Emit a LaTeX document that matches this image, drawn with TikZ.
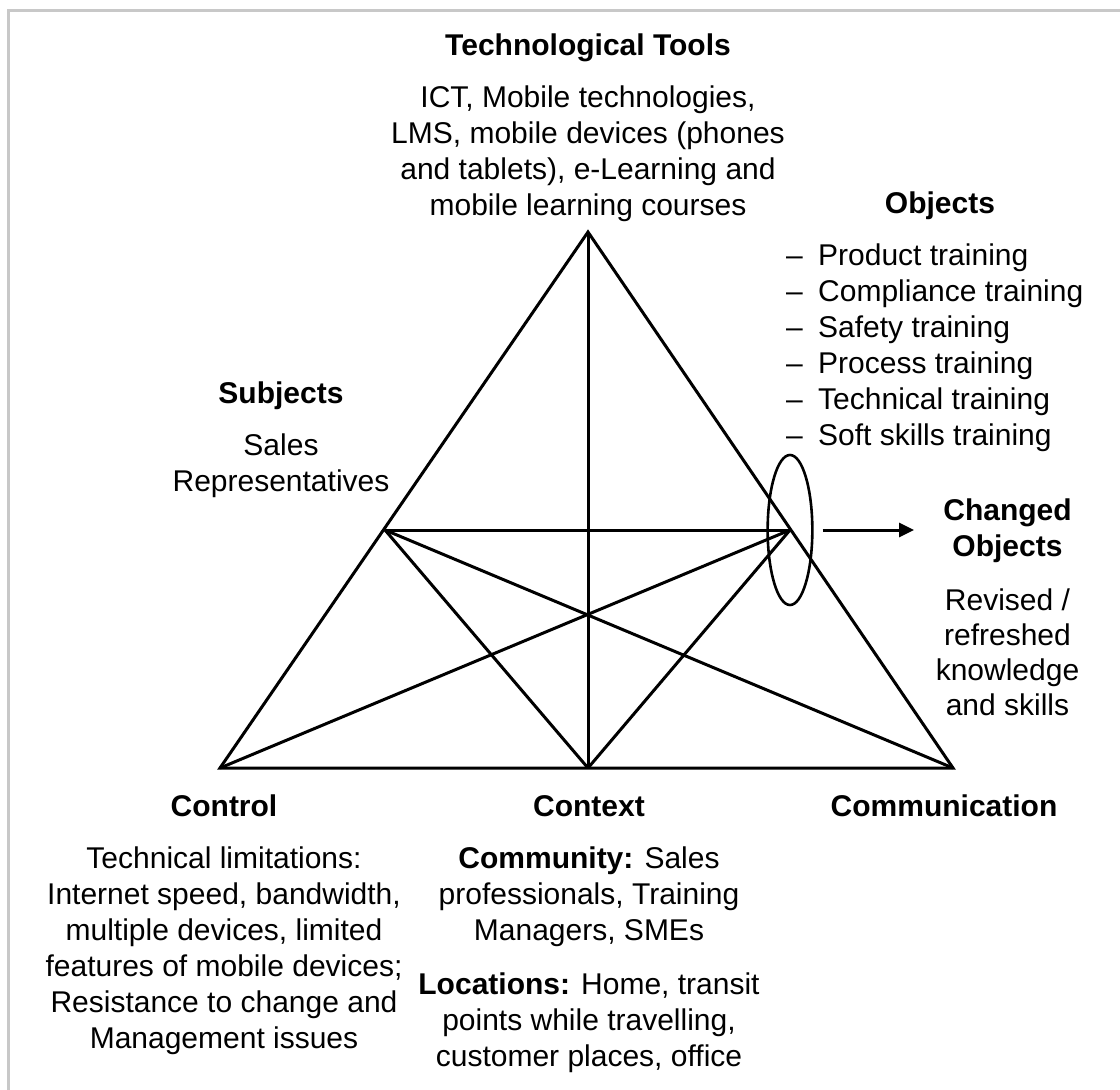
\documentclass[tikz,border=0pt]{standalone}
\usepackage{fontspec}
\setmainfont{Liberation Sans}
\usetikzlibrary{positioning, arrows.meta, shapes.geometric}
\definecolor{framegray}{HTML}{C8C8C8}

\begin{document}
\begin{tikzpicture}[x=1pt, y=-1pt, node distance=30.5pt,
  head/.style={font=\bfseries, inner sep=0pt, anchor=base},
  txt/.style={align=center, inner sep=0pt,
              execute at begin node=\strut, execute at end node=\strut},
  edge/.style={line width=3pt},
  arr/.style={-{Triangle[length=15pt, width=14pt]}, line width=3pt}]
  \fontsize{30}{36}\selectfont
  \useasboundingbox (0,0) rectangle (1120,1090);
  \draw[framegray, line width=2.5pt] (8.5,1090) -- (8.5,10.5) -- (1120,10.5);

  % corners of the triangle
  \coordinate (tools) at (588,232);
  \coordinate (ctl) at (220,768);
  \coordinate (ctx) at (588,768);
  \coordinate (com) at (953,768);
  \coordinate (subj) at (385,530);
  \coordinate (obj) at (790,530);

  \draw[edge] (tools) -- (ctl) -- (com) -- cycle;
  \draw[edge] (tools) -- (ctx);
  \draw[edge] (subj) -- (obj);
  \draw[edge] (subj) -- (ctx);
  \draw[edge] (subj) -- (com);
  \draw[edge] (obj) -- (ctl);
  \draw[edge] (obj) -- (ctx);

  \node[draw, ellipse, line width=2.6pt, minimum width=44.7pt,
        minimum height=150pt, inner sep=0pt] (ring) at (obj) {};
  \coordinate (tip) at (914,530);
  \draw[arr, shorten <=9pt] (ring) -- (tip);

  % headings
  \node[head] (toolshead) at (588,55.5) {Technological Tools};
  \node[head] (objhead) at (940,213.5) {Objects};
  \node[head] (subjhead) at (281,403.5) {Subjects};
  \node[head] (ctlhead) at (224,816.5) {Control};
  \node[head] (ctxhead) at (589,816.5) {Context};
  \node[head] (comhead) at (944,816.5) {Communication};
  \node[txt, font=\bfseries, anchor=north] (chghead) at (1007.5,498.5) {Changed\\Objects};

  % texts under the headings
  \node[txt, below=of toolshead.base] (toolstxt)
    {ICT, Mobile technologies,\\LMS, mobile devices (phones\\and tablets), e-Learning and\\mobile learning courses};
  \node[txt, align=left, anchor=north west] (objtxt) at (786,243.5)
    {\makebox[32pt][l]{\textendash}Product training\\
     \makebox[32pt][l]{\textendash}Compliance training\\
     \makebox[32pt][l]{\textendash}Safety training\\
     \makebox[32pt][l]{\textendash}Process training\\
     \makebox[32pt][l]{\textendash}Technical training\\
     \makebox[32pt][l]{\textendash}Soft skills training};
  \node[txt, below=of subjhead.base] (subjtxt) {Sales\\Representatives};
  \node[txt, below=21pt of chghead, font=\fontsize{30}{35}\selectfont] (chgtxt)
    {Revised /\\refreshed\\knowledge\\and skills};
  \node[txt, below=of ctlhead.base] (ctltxt)
    {Technical limitations:\\Internet speed, bandwidth,\\multiple devices, limited\\features of mobile devices;\\Resistance to change and\\Management issues};
  \node[txt, below=of ctxhead.base] (ctxtxt)
    {\textbf{Community:} Sales\\professionals, Training\\Managers, SMEs\\[18pt]
     \textbf{Locations:} Home, transit\\points while travelling,\\customer places, office};
\end{tikzpicture}
\end{document}
